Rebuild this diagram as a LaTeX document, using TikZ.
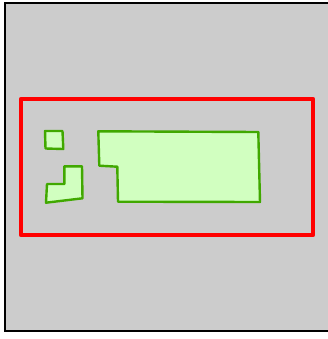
\documentclass[tikz,border=0pt]{standalone}
\usepackage{tikz}

\definecolor{partfill}{RGB}{209,255,192}
\definecolor{partline}{RGB}{64,168,0}

\begin{document}
\begin{tikzpicture}[x=1bp, y=-1bp]
    % Styles of the plan
    \tikzset{
        c_sheet/.style={fill=black!20, draw=black, line width=2bp},
        c_frame/.style={draw=red, line width=4.5bp, line join=round},
        c_part/.style={fill=partfill, draw=partline, line width=2.4bp, line join=round}
    }

    % Fixed page size
    \useasboundingbox (0,0) rectangle (328,339);
    \clip (0,0) rectangle (328,339);

    % The grey sheet
    \draw[c_sheet] (5,3) rectangle (334,331);

    % Red frame
    \draw[c_frame] (21,99) rectangle (313,235);

    % Small square part
    \draw[c_part] (45,131) -- (62.5,131) -- (63.3,149) -- (45.5,148.5) -- cycle;

    % L-shaped part
    \draw[c_part] (47,184) -- (64.3,184) -- (64.3,166.3) -- (82,166.3)
        -- (82.5,198.3) -- (46,202.7) -- cycle;

    % Large part
    \draw[c_part] (98.3,131.3) -- (258.3,132) -- (260,202) -- (118,201.7)
        -- (117.3,166.7) -- (99.3,165.7) -- cycle;
\end{tikzpicture}
\end{document}
